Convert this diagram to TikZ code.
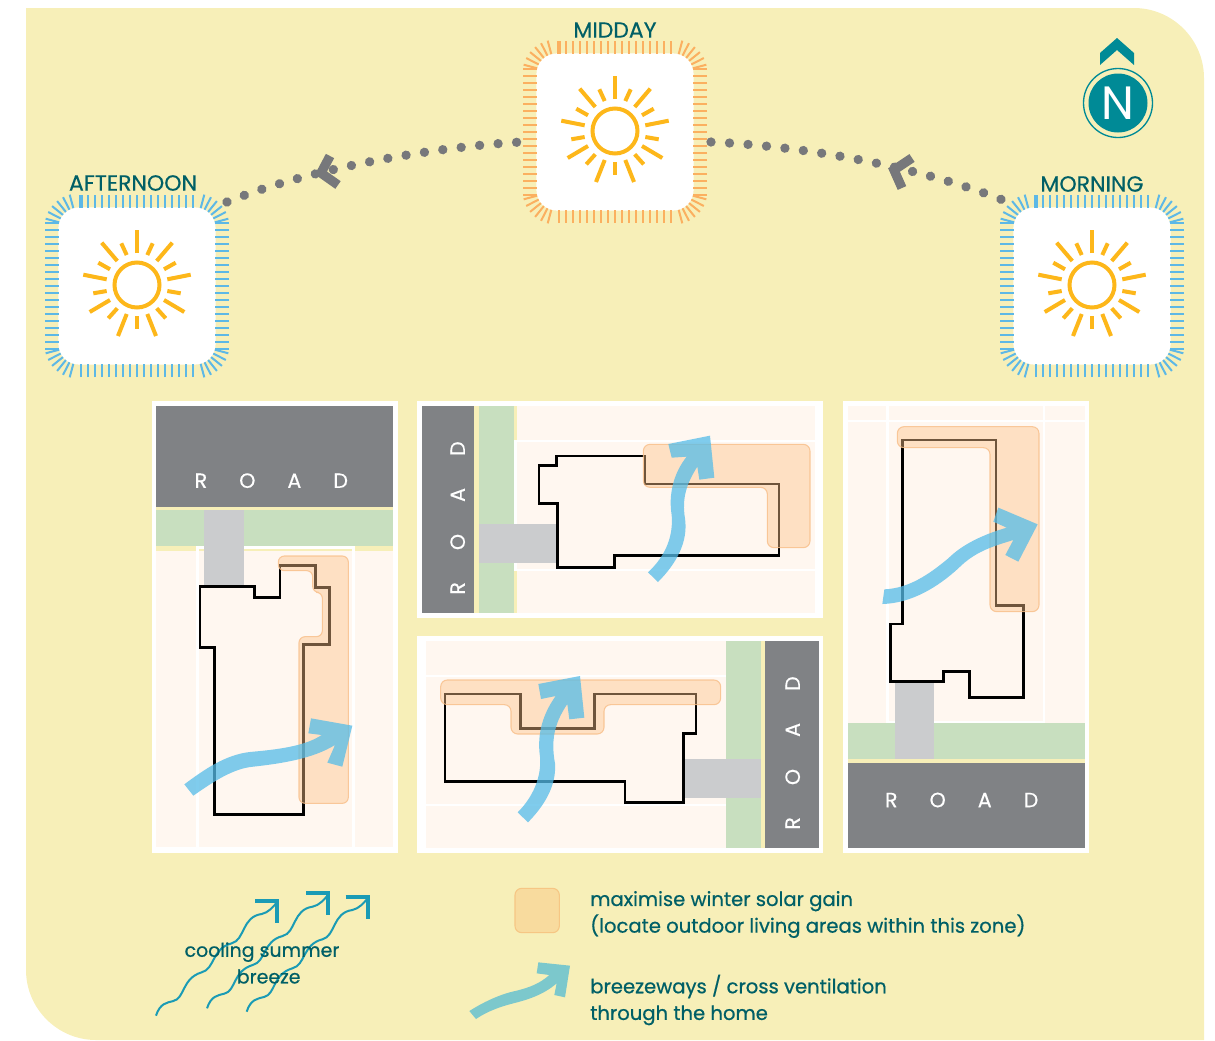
\documentclass[tikz,border=0pt]{standalone}
\usepackage{fontspec}
\setmainfont{Poppins}
\newfontfamily\legendfont[FakeBold=0.6]{Poppins}
\newfontfamily\labelfont[FakeBold=0.4]{Poppins}
\definecolor{bgyellow}{HTML}{F7EFB8}
\definecolor{roadgrey}{HTML}{808285}
\definecolor{verge}{HTML}{C8DFBF}
\definecolor{drivegrey}{HTML}{CBCCCE}
\definecolor{lotcream}{HTML}{FFF7F0}
\definecolor{zonefill}{RGB}{253,195,138}
\definecolor{zoneedge}{HTML}{F8BE88}
\definecolor{windblue}{HTML}{55BCE8}
\definecolor{tealtext}{HTML}{005F66}
\definecolor{tealmark}{HTML}{008A96}
\definecolor{wavecol}{HTML}{1A9BB5}
\definecolor{sunraycol}{HTML}{FDB71A}
\definecolor{tickblue}{HTML}{5DB8E6}
\definecolor{tickorange}{HTML}{FBB060}
\definecolor{pathgrey}{HTML}{77787B}
\definecolor{legendarrow}{HTML}{7CC8CC}
\definecolor{swatchfill}{HTML}{F8DB9E}
\definecolor{swatchedge}{HTML}{F6C684}
\newcommand{\roadword}{{\spaceskip=24pt\relax R O A D}}
\tikzset{
  framebox/.style={draw=none,fill=white,rounded corners=15pt,minimum width=117.8pt,minimum height=117.8pt,inner sep=0pt},
  sunlabel/.style={text=tealtext,font=\labelfont\fontsize{16.5}{16.5}\selectfont,inner sep=0pt},
  legendtext/.style={text=tealtext,font=\legendfont\fontsize{14.7}{20}\selectfont,inner sep=0pt,align=left,anchor=west},
  roadtext/.style={text=white,font=\labelfont\fontsize{15.5}{15.5}\selectfont,inner sep=0pt},
  house/.style={draw=black,line width=2.2pt,line join=miter},
  zone/.style={fill=zonefill,fill opacity=.44,draw=zoneedge,draw opacity=.8,line width=.8pt},
  breeze/.style={fill=windblue,fill opacity=.75,draw=none},
  sunray/.style={draw=sunraycol,line width=3pt},
  dotline/.style={draw=pathgrey,line width=7pt,line cap=round,dash pattern=on 0.01pt off 13.9pt},
  chevron/.style={draw=pathgrey,line width=7pt,line join=miter},
  wave/.style={draw=wavecol,line width=1.5pt},
  wavehead/.style={draw=wavecol,line width=3.2pt,line join=miter},
}
\newcommand{\sunicon}[4]{%
  \node[framebox] (#1) at (#2,#3) {};
  \begin{scope}[shift={(#2,#3)}]
    \foreach \t in {-56,-49,...,56} {
      \draw[#4,line width=1.9pt] (\t,-91)--(\t,-78);
      \draw[#4,line width=1.9pt] (\t,91)--(\t,78);
    }
    \draw[#4,line width=3.6pt] (-56,-91)--(-56,-78);
    \foreach \t in {-63,-56,...,63} {
      \draw[#4,line width=1.9pt] (-92,\t)--(-78,\t);
      \draw[#4,line width=1.9pt] (92,\t)--(78,\t);
    }
    \foreach \t in {15,27,39,51,63,75} {
      \draw[#4,line width=1.5pt] ({58.5+20*cos(\t)},{-58.5-20*sin(\t)})--({58.5+34*cos(\t)},{-58.5-34*sin(\t)});
      \draw[#4,line width=1.5pt] ({-58.5-20*cos(\t)},{-58.5-20*sin(\t)})--({-58.5-34*cos(\t)},{-58.5-34*sin(\t)});
      \draw[#4,line width=1.5pt] ({58.5+20*cos(\t)},{58.5+20*sin(\t)})--({58.5+34*cos(\t)},{58.5+34*sin(\t)});
      \draw[#4,line width=1.5pt] ({-58.5-20*cos(\t)},{58.5+20*sin(\t)})--({-58.5-34*cos(\t)},{58.5+34*sin(\t)});
    }
    \draw[draw=sunraycol,line width=3pt] (0,-1) circle[radius=22.5];
    \draw[sunray] (0,-33)--(0,-56);
    \draw[sunray] (0,30)--(0,43);
    \foreach \a/\b/\c/\d in {10.3/-31/15.7/-42.7,19.7/-25/35.3/-43.3,27/-16.7/38.7/-23.3,30.3/-6.7/53.7/-11.3,30.3/5/43.7/7.3,27/14/47.3/26,19.7/22.3/28.7/32.3,10.3/28/19/50} {
      \draw[sunray] (\a,\b)--(\c,\d);
      \draw[sunray] (-\a,\b)--(-\c,\d);
    }
  \end{scope}
}
\begin{document}
\begin{tikzpicture}[x=0.75pt,y=-0.75pt]
\useasboundingbox (0,0) rectangle (1215,1040);
\fill[bgyellow] (26,8) -- (1134,8) .. controls (1172.5,8) and (1204,39.5) .. (1204,78) -- (1204,1040) -- (96,1040) .. controls (57.5,1040) and (26,1008.5) .. (26,970) -- cycle;

% dotted sun path
\coordinate (pathA) at (227,202);
\coordinate (pathB) at (521,142);
\coordinate (pathC) at (711,142);
\coordinate (pathD) at (1015,205);
\coordinate (chevL1) at (330,156);
\coordinate (chevL2) at (321,173);
\coordinate (chevL3) at (338,185);
\coordinate (chevR1) at (912,158);
\coordinate (chevR2) at (894,170);
\coordinate (chevR3) at (902,188);

% suns
\sunicon{afternoonsun}{137}{286}{tickblue}
\sunicon{middaysun}{615}{132}{tickorange}
\sunicon{morningsun}{1092}{286}{tickblue}
\node[sunlabel] (afternoontext) at (133,183) {AFTERNOON};
\node[sunlabel] (middaytext) at (615,30) {MIDDAY};
\node[sunlabel] (morningtext) at (1092,184) {MORNING};

\draw[chevron] (chevL1) -- (chevL2) -- (chevL3);
\draw[chevron] (chevR1) -- (chevR2) -- (chevR3);
\draw[dotline] (pathA) .. controls (300,172) and (420,148) .. (pathB);
\draw[dotline] (pathC) .. controls (800,146) and (920,165) .. (pathD);

% north mark
\fill[tealmark] (1100,65) -- (1100,53) -- (1117,38) -- (1134,53) -- (1134,65) -- (1117,50) -- cycle;
\draw[tealmark,line width=1pt] (1118,103) circle[radius=34.5];
\fill[tealmark] (1118,103) circle[radius=29.5];
\node[text=white,font=\fontsize{35}{35}\selectfont,inner sep=0pt] (northletter) at (1118,103) {N};

% ---------- panel 1 (road at top)
\begin{scope}[shift={(140,395)},x=0.25pt,y=-0.25pt]
  \fill[white] (35,18) rectangle (775,1373);
  \fill[roadgrey] (48,32) rectangle (760,335);
  \fill[bgyellow] (48,335) rectangle (760,468);
  \fill[verge] (48,345) rectangle (760,453);
  \fill[lotcream] (48,468) rectangle (760,1355);
  \draw[white,line width=2pt] (172,1355) -- (172,458) -- (640,458) -- (640,1355);
  \fill[drivegrey] (193,345) rectangle (311,575);
  \draw[house] (180,575) -- (343,575) -- (343,607) -- (420,607) -- (420,512) -- (527,512) -- (527,578) -- (568,578) -- (568,748) -- (490,748) -- (490,1258) -- (223,1258) -- (223,758) -- (180,758) -- cycle;
  \draw[zone,rounded corners=4.5pt] (415,483) -- (625,483) -- (625,1225) -- (477,1225) -- (477,725) -- (547,725) -- (547,592) -- (518,592) -- (518,527) -- (415,527) -- cycle;
  \fill[breeze] (133,1168) .. controls (210,1110) and (270,1075) .. (340,1070) .. controls (430,1062) and (500,1050) .. (545,1020) -- (505,1015) -- (513,970) -- (637,992) -- (607,1115) -- (562,1103) -- (585,1050) .. controls (520,1090) and (430,1105) .. (340,1115) .. controls (280,1120) and (220,1160) .. (160,1202) -- cycle;
  \node[roadtext] (roadone) at (394,257) {\roadword};
\end{scope}

% ---------- panel 2 (road at left)
\begin{scope}[shift={(410,395)},x=0.25pt,y=-0.25pt]
  \fill[white] (22,18) rectangle (1240,668);
  \fill[bgyellow] (35,32) rectangle (320,655);
  \fill[roadgrey] (35,32) rectangle (193,655);
  \fill[verge] (207,32) rectangle (312,655);
  \fill[lotcream] (320,32) rectangle (1215,655);
  \draw[white,line width=2pt] (1230,138) -- (316,138) -- (316,525) -- (1230,525);
  \fill[drivegrey] (207,387) rectangle (440,503);
  \draw[house] (440,183) -- (705,183) -- (705,267) -- (1107,267) -- (1107,481) -- (613,481) -- (613,517) -- (443,517) -- (443,326) -- (387,326) -- (387,211) -- (440,211) -- cycle;
  \draw[zone,rounded corners=5pt] (700,148) -- (1200,148) -- (1200,458) -- (1072,458) -- (1072,277) -- (700,277) -- cycle;
  \fill[breeze] (714,532) .. controls (770,480) and (790,420) .. (785,360) .. controls (775,300) and (790,235) .. (830,185) -- (785,188) -- (775,147) -- (900,122) -- (913,248) -- (868,254) -- (862,215) .. controls (830,265) and (815,310) .. (825,370) .. controls (835,440) and (800,505) .. (744,561) -- cycle;
  \node[roadtext,rotate=90] (roadtwo) at (143,369) {\roadword};
\end{scope}

% ---------- panel 3 (road at right)
\begin{scope}[shift={(410,630)},x=0.25pt,y=-0.25pt]
  \fill[white] (22,18) rectangle (1240,668);
  \fill[lotcream] (47,32) rectangle (947,655);
  \fill[bgyellow] (947,32) rectangle (1065,655);
  \fill[verge] (947,32) rectangle (1053,655);
  \fill[roadgrey] (1065,32) rectangle (1227,655);
  \draw[white,line width=2pt] (47,138) -- (947,138);
  \draw[white,line width=2pt] (47,525) -- (947,525);
  \fill[drivegrey] (822,387) rectangle (1053,503);
  \draw[house] (105,192) -- (332,192) -- (332,295) -- (553,295) -- (553,192) -- (858,192) -- (858,310) -- (820,310) -- (820,517) -- (645,517) -- (645,454) -- (105,454) -- cycle;
  \draw[zone,rounded corners=5pt] (92,150) -- (932,150) -- (932,224) -- (582,224) -- (582,312) -- (303,312) -- (303,224) -- (92,224) -- cycle;
  \fill[breeze] (323,547) .. controls (370,500) and (395,440) .. (390,380) .. controls (380,310) and (400,250) .. (437,198) -- (393,207) -- (385,162) -- (510,138) -- (523,263) -- (478,268) -- (472,222) .. controls (440,270) and (420,320) .. (435,400) .. controls (440,470) and (400,530) .. (354,577) -- cycle;
  \node[roadtext,rotate=90] (roadthree) at (1148,369) {\roadword};
\end{scope}

% ---------- panel 4 (road at bottom)
\begin{scope}[shift={(835,395)},x=0.25pt,y=-0.25pt]
  \fill[white] (24,18) rectangle (763,1373);
  \fill[lotcream] (38,32) rectangle (750,985);
  \draw[white,line width=2pt] (38,78) -- (750,78);
  \draw[white,line width=2pt] (158,32) -- (158,983) -- (627,983) -- (627,32);
  \fill[verge] (38,985) rectangle (750,1092);
  \fill[bgyellow] (38,1092) rectangle (750,1104);
  \fill[roadgrey] (38,1104) rectangle (750,1360);
  \fill[drivegrey] (180,862) rectangle (297,1092);
  \draw[house] (202,135) -- (483,135) -- (483,632) -- (565,632) -- (565,907) -- (403,907) -- (403,830) -- (325,830) -- (325,860) -- (167,860) -- (167,687) -- (202,687) -- cycle;
  \draw[zone,rounded corners=5pt] (187,95) -- (612,95) -- (612,650) -- (465,650) -- (465,158) -- (187,158) -- cycle;
  \fill[breeze] (148,583) .. controls (220,580) and (280,540) .. (340,490) .. controls (380,450) and (440,420) .. (515,398) -- (475,380) -- (490,338) -- (608,388) -- (550,500) -- (511,480) -- (535,435) .. controls (470,455) and (420,470) .. (370,520) .. controls (310,575) and (230,625) .. (142,627) -- cycle;
  \node[roadtext] (roadfour) at (380,1215) {\roadword};
\end{scope}

% ---------- legend
\begin{scope}[shift={(140,870)},x=0.25pt,y=-0.25pt]
  \foreach \dx/\dy in {0/0,153/-22,272/-12} {
    \begin{scope}[shift={(\dx,\dy)}]
      \draw[wave] (48,437) .. controls (60,400) and (80,398) .. (100,393) .. controls (135,385) and (125,325) .. (185,307) .. controls (225,297) and (215,235) .. (275,220) .. controls (315,210) and (305,140) .. (365,132) .. controls (385,128) and (400,110) .. (411,97);
      \draw[wavehead] (345,92) -- (411,92) -- (411,158);
    \end{scope}
  }
  \draw[draw=swatchedge,fill=swatchfill,line width=.8pt,rounded corners=5pt] (1125,55) rectangle (1258,188);
  \fill[legendarrow] (988,423) .. controls (1040,390) and (1090,370) .. (1130,362) .. controls (1170,352) and (1200,340) .. (1228,315) -- (1190,310) -- (1195,277) -- (1290,287) -- (1275,382) -- (1243,375) -- (1250,340) .. controls (1210,375) and (1160,390) .. (1120,400) .. controls (1080,410) and (1040,425) .. (1008,447) -- cycle;
\end{scope}
\node[text=tealtext,font=\legendfont\fontsize{14.2}{20}\selectfont,align=center,inner sep=0pt] (breezetext) at (262,963) {cooling summer\\\hspace{10pt}breeze};
\node[legendtext] (solartext) at (590,914.5) {maximise winter solar gain\\(locate outdoor living areas within this zone)};
\node[legendtext] (crosstext) at (590,1000) {breezeways / cross ventilation\\through the home};
\end{tikzpicture}
\end{document}
